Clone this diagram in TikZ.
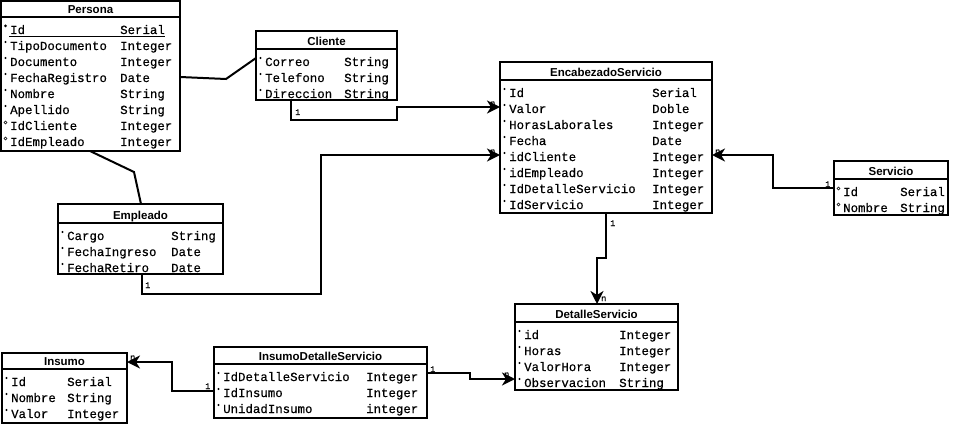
\documentclass[tikz,border=0pt]{standalone}
\usepackage{fontspec}
\setmainfont{Liberation Sans}
\newfontfamily\monoA[FakeBold=0.4]{Liberation Mono}
\usetikzlibrary{arrows.meta,calc}

% One table: name, left, top, width, height, header height, title, type column offset, rows
\newcommand{\tabla}[9]{%
  \node[tbl, minimum width=#4pt, minimum height=#5pt] (#1) at (#2,#3) {};
  \draw[tblline] (#2,#3+#6) -- ++(#4,0);
  \node[ttl] at (#2+#4/2,#3+#6-3.5) {#7};
  \foreach \m/\n/\t [count=\i from 0] in {#9} {
    \pgfmathsetmacro\yb{#3+#6+17+16*\i}
    \node[attr] at (#2+9,\yb) {\n};
    \node[attr] at (#2+#8,\yb) {\t};
    \if\m o\draw[line width=0.6pt] (#2+4.5,\yb-7.5) circle (1.5pt);
    \else\if\m k\fill (#2+4.5,\yb-8) circle (1.5pt);
    \else\fill (#2+4.5,\yb-8) circle (1.1pt);\fi\fi
  }
}

\begin{document}
\begin{tikzpicture}[x=1pt,y=-1pt,
  tbl/.style={draw, line width=2pt, fill=white, rectangle, anchor=north west,
    inner sep=0pt, outer sep=0pt},
  tblline/.style={line width=2pt},
  ttl/.style={anchor=base, inner sep=0pt, font=\bfseries\fontsize{11.5}{13}\selectfont},
  attr/.style={anchor=base west, inner sep=0pt, font=\monoA\fontsize{12.4}{14}\selectfont},
  lbl/.style={anchor=base west, inner sep=0pt, font=\monoA\fontsize{8.5}{9}\selectfont},
  conn/.style={line width=2pt, line join=miter},
  rel/.style={conn, -{Stealth[length=13pt,width=13pt,inset=4pt]}}]
\useasboundingbox (0,0) rectangle (955,425);

\tabla{persona}{1}{1}{179}{150}{16}{Persona}{119}{k/Id/Serial, f/TipoDocumento/Integer,
  f/Documento/Integer, f/FechaRegistro/Date, f/Nombre/String, f/Apellido/String,
  o/IdCliente/Integer, o/IdEmpleado/Integer}
\draw[line width=1pt] (9,37) -- (165,37);

\tabla{cliente}{256}{31}{141}{69}{18}{Cliente}{88}{f/Correo/String,
  f/Telefono/String, f/Direccion/String}

\tabla{encab}{500}{62}{212}{151}{18}{EncabezadoServicio}{152}{f/Id/Serial,
  f/Valor/Doble, f/HorasLaborales/Integer, f/Fecha/Date, f/idCliente/Integer,
  f/idEmpleado/Integer, f/IdDetalleServicio/Integer, f/IdServicio/Integer}

\tabla{servicio}{834}{161}{114}{54}{18}{Servicio}{66}{o/Id/Serial, o/Nombre/String}

\tabla{empleado}{58}{204}{165}{70}{19}{Empleado}{113}{f/Cargo/String,
  f/FechaIngreso/Date, f/FechaRetiro/Date}

\tabla{detalle}{515}{304}{163}{86}{18}{DetalleServicio}{104}{f/id/Integer,
  f/Horas/Integer, f/ValorHora/Integer, f/Observacion/String}

\tabla{insdet}{214}{347}{213}{71}{17}{InsumoDetalleServicio}{152}{f/IdDetalleServicio/Integer,
  f/IdInsumo/Integer, f/UnidadInsumo/integer}

\tabla{insumo}{2}{353}{125}{70}{16}{Insumo}{65}{f/Id/Serial, f/Nombre/String,
  f/Valor/Integer}

% Connectors
\draw[conn] (persona.east |- 0,77) -- (226,79) -- (cliente.west |- 0,58);
\draw[conn] (90,0 |- persona.south) -- (134,172) -- (141,0 |- empleado.north);

\draw[rel] (291,0 |- cliente.south) -- (291,120) -- (397,120) -- (397,107)
  -- (encab.west |- 0,107);
\draw[rel] (142,0 |- empleado.south) -- (142,294) -- (321,294) -- (321,155)
  -- (encab.west |- 0,155);
\draw[rel] (servicio.west |- 0,188) -- (773,188) -- (773,155)
  -- (encab.east |- 0,155);
\draw[rel] (606,0 |- encab.south) -- (606,258) -- (597,258)
  -- (597,0 |- detalle.north);
\draw[rel] (insdet.east |- 0,373) -- (470,373) -- (470,379)
  -- (detalle.west |- 0,379);
\draw[rel] (insdet.west |- 0,391) -- (172,391) -- (172,362)
  -- (insumo.east |- 0,362);

% Multiplicities
\node[lbl] at (295,115) {1};
\node[lbl] at (490,106) {n};
\node[lbl] at (145,288) {1};
\node[lbl] at (490,154) {n};
\node[lbl] at (825,187) {1};
\node[lbl] at (715,154) {n};
\node[lbl] at (610,226) {1};
\node[lbl] at (601,301) {n};
\node[lbl] at (430,372) {1};
\node[lbl] at (504,377) {n};
\node[lbl] at (205,389) {1};
\node[lbl] at (130,360) {n};
\end{tikzpicture}
\end{document}
